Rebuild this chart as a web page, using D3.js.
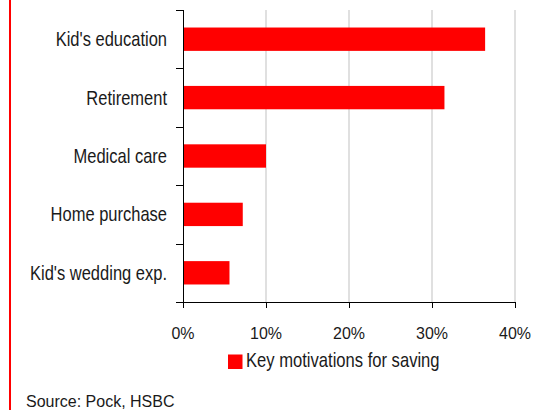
<!DOCTYPE html>
<html>
<head>
<meta charset="utf-8">
<script src="https://cdn.jsdelivr.net/npm/d3@7"></script>
<style>
  html, body { margin: 0; padding: 0; background: #fff; }
  text { font-family: "Liberation Sans", Arial, sans-serif; fill: #1a1a1a; }
</style>
</head>
<body>
<svg id="chart" width="535" height="410"></svg>
<script>
const categories = ["Kid's education", "Retirement", "Medical care", "Home purchase", "Kid's wedding exp."];
const values = [0.364, 0.315, 0.100, 0.072, 0.056];
const xTicks = [0, 0.1, 0.2, 0.3, 0.4];
const xTickLabels = ["0%", "10%", "20%", "30%", "40%"];
const seriesName = "Key motivations for saving";
const sourceText = "Source: Pock, HSBC";

const svg = d3.select("#chart");
const red = "#ff0000";

// left red rule
svg.append("rect").attr("x", 9).attr("y", 0).attr("width", 2).attr("height", 410).attr("fill", red);

const x = d3.scaleLinear().domain([0, 0.4]).range([183, 515]);
const y = d3.scaleBand().domain(categories).range([10, 302]).paddingInner(0.6).paddingOuter(0.3);

// gridlines
svg.append("g").selectAll("line").data(xTicks.slice(1)).join("line")
  .attr("x1", d => x(d)).attr("x2", d => x(d))
  .attr("y1", 10).attr("y2", 302)
  .attr("stroke", "#d6d6d6").attr("stroke-width", 1.5);

// bars
svg.append("g").selectAll("rect").data(categories).join("rect")
  .attr("x", x(0))
  .attr("y", d => y(d))
  .attr("width", (d, i) => x(values[i]) - x(0))
  .attr("height", y.bandwidth())
  .attr("fill", red);

// y axis line + ticks at band boundaries
const step = y.step();
const yEdges = d3.range(categories.length + 1).map(i => 10 + i * step);
svg.append("line").attr("x1", 183.5).attr("x2", 183.5).attr("y1", 10).attr("y2", 302)
  .attr("stroke", "#000").attr("stroke-width", 1);
svg.append("g").selectAll("line").data(yEdges).join("line")
  .attr("x1", 176).attr("x2", 183.5)
  .attr("y1", d => Math.round(d) + 0.5).attr("y2", d => Math.round(d) + 0.5)
  .attr("stroke", "#000").attr("stroke-width", 1);

// x axis line + ticks
svg.append("line").attr("x1", 183).attr("x2", 515.5).attr("y1", 302.5).attr("y2", 302.5)
  .attr("stroke", "#000").attr("stroke-width", 1);
svg.append("g").selectAll("line").data(xTicks).join("line")
  .attr("x1", d => Math.round(x(d)) + 0.5).attr("x2", d => Math.round(x(d)) + 0.5)
  .attr("y1", 302).attr("y2", 308)
  .attr("stroke", "#000").attr("stroke-width", 1);

// x tick labels
svg.append("g").selectAll("g").data(xTicks).join("g")
  .attr("transform", d => `translate(${x(d)},339) scale(0.94,1)`)
  .append("text")
  .attr("text-anchor", "middle")
  .attr("font-size", 17)
  .text((d, i) => xTickLabels[i]);

// category labels
svg.append("g").selectAll("g").data(categories).join("g")
  .attr("transform", d => `translate(167,${y(d) + y.bandwidth() / 2 + 7}) scale(0.825,1)`)
  .append("text")
  .attr("text-anchor", "end")
  .attr("font-size", 20)
  .text(d => d);

// legend
svg.append("rect").attr("x", 228).attr("y", 354.5).attr("width", 14.5).attr("height", 14.5).attr("fill", red);
svg.append("g").attr("transform", "translate(246,367) scale(0.83,1)")
  .append("text").attr("font-size", 20).text(seriesName);

// source
svg.append("text").attr("x", 26).attr("y", 407).attr("font-size", 16).text(sourceText);
</script>
</body>
</html>
